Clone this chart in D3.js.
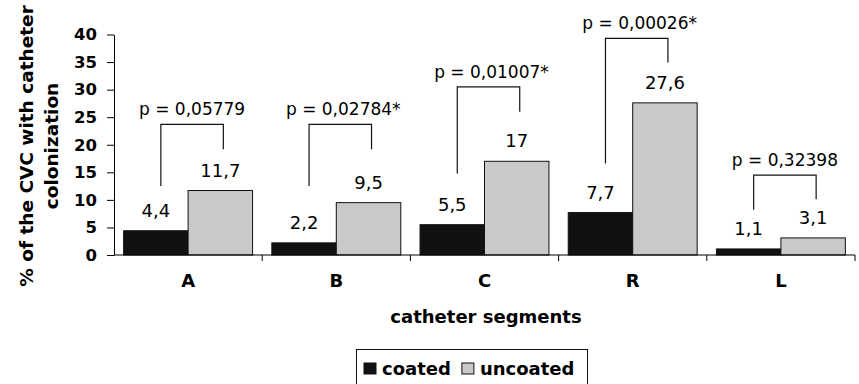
<!DOCTYPE html>
<html>
<head>
<meta charset="utf-8">
<script src="https://cdn.jsdelivr.net/npm/d3@7"></script>
<style>
  body { margin: 0; background: #fff; }
  svg { display: block; }
  text { font-family: "DejaVu Sans", sans-serif; fill: #000; }
</style>
</head>
<body>
<div class="chart"></div>
<script>
// catheter segments
var categories = ["A", "B", "C", "R", "L"];
var series = ["coated", "uncoated"];
var coated = [4.4, 2.2, 5.5, 7.7, 1.1];
var uncoated = [11.7, 9.5, 17, 27.6, 3.1];
var pLabels = ["p = 0,05779", "p = 0,02784*", "p = 0,01007*", "p = 0,00026*", "p = 0,32398"];
// bracket levels, in % units
var bracketTop = [23.7, 23.7, 30.5, 39.3, 14.5];
var bracketLeftEnd = [12.5, 12.5, 14.8, 16.6, 8.2];
var bracketRightEnd = [19.2, 19.2, 26, 34.9, 10.1];
var yTicks = [0, 5, 10, 15, 20, 25, 30, 35, 40];

var colors = { coated: "#111111", uncoated: "#c9c9cb" };
var width = 859, height = 384;

var svg = d3.select(".chart").append("svg")
  .attr("width", width)
  .attr("height", height);

var x0 = d3.scaleBand().domain(categories).range([114, 855])
  .paddingInner(0.13).paddingOuter(0.065);
var x1 = d3.scaleBand().domain(series).range([0, x0.bandwidth()]);
var y = d3.scaleLinear().domain([0, 40]).range([255, 34.5]);

var data = categories.map(function(c, i) {
  return { cat: c, i: i, coated: coated[i], uncoated: uncoated[i] };
});

function fmt(v) { return String(v).replace(".", ","); }

// y axis
var yAxis = svg.append("g")
  .attr("transform", "translate(114,0)")
  .call(d3.axisLeft(y).tickValues(yTicks).tickSize(7).tickSizeOuter(0).tickPadding(10));
yAxis.selectAll("text")
  .style("font-family", "DejaVu Sans")
  .style("font-weight", "bold")
  .style("font-size", "16.5px");
yAxis.select(".domain").attr("stroke", "#000");

// bars
var groups = svg.selectAll("g.cat").data(data).enter().append("g")
  .attr("class", "cat")
  .attr("transform", function(d) { return "translate(" + x0(d.cat) + ",0)"; });

groups.selectAll("rect").data(function(d) {
    return series.map(function(s) { return { key: s, value: d[s] }; });
  }).enter().append("rect")
  .attr("x", function(d) { return x1(d.key); })
  .attr("y", function(d) { return y(d.value); })
  .attr("width", x1.bandwidth())
  .attr("height", function(d) { return y(0) - y(d.value); })
  .attr("fill", function(d) { return colors[d.key]; })
  .attr("stroke", "#111")
  .attr("stroke-width", 1);

groups.selectAll("text.val").data(function(d) {
    return series.map(function(s) { return { key: s, value: d[s] }; });
  }).enter().append("text")
  .attr("class", "val")
  .attr("x", function(d) { return x1(d.key) + x1.bandwidth() / 2; })
  .attr("y", function(d) { return y(d.value) - 14; })
  .attr("text-anchor", "middle")
  .style("font-size", "18px")
  .text(function(d) { return fmt(d.value); });

// x axis
var bounds = categories.map(function(c) { return x0(c) - x0.step() * x0.paddingInner() / 2; });
bounds.push(855);
bounds[0] = 114;
svg.append("line")
  .attr("x1", 114).attr("x2", 855)
  .attr("y1", y(0)).attr("y2", y(0))
  .attr("stroke", "#000");
svg.selectAll("line.xtick").data(bounds.slice(1)).enter().append("line")
  .attr("class", "xtick")
  .attr("x1", function(d) { return d; }).attr("x2", function(d) { return d; })
  .attr("y1", y(0)).attr("y2", y(0) + 6)
  .attr("stroke", "#000");
svg.selectAll("text.xlab").data(categories).enter().append("text")
  .attr("class", "xlab")
  .attr("x", function(d) { return x0(d) + x0.bandwidth() / 2; })
  .attr("y", 287)
  .attr("text-anchor", "middle")
  .style("font-weight", "bold")
  .style("font-size", "18px")
  .text(function(d) { return d; });

// significance brackets
groups.each(function(d) {
  var g = d3.select(this);
  var xl = x1("coated") + x1.bandwidth() / 2 + 5;
  var xr = x1("uncoated") + x1.bandwidth() / 2 + 3;
  var yt = y(bracketTop[d.i]);
  g.append("path")
    .attr("d", "M" + xl + "," + y(bracketLeftEnd[d.i]) + "V" + yt + "H" + xr + "V" + y(bracketRightEnd[d.i]))
    .attr("fill", "none")
    .attr("stroke", "#111")
    .attr("stroke-width", 1.2);
  var star = pLabels[d.i].slice(-1) === "*";
  g.append("text")
    .attr("x", (xl + xr) / 2 + (star ? 3 : 0))
    .attr("y", yt - 9)
    .attr("text-anchor", "middle")
    .style("font-size", "17px")
    .text(pLabels[d.i]);
});

// axis titles
var yTitle = svg.append("text")
  .attr("transform", "rotate(-90)")
  .attr("text-anchor", "middle")
  .style("font-weight", "bold")
  .style("font-size", "18.5px");
yTitle.append("tspan").attr("x", -146).attr("y", 33).text("% of the CVC with catheter");
yTitle.append("tspan").attr("x", -146).attr("y", 58).text("colonization");

svg.append("text")
  .attr("x", 486)
  .attr("y", 323)
  .attr("text-anchor", "middle")
  .style("font-weight", "bold")
  .style("font-size", "18px")
  .text("catheter segments");

// legend
var legend = svg.append("g");
legend.append("rect")
  .attr("x", 356.5).attr("y", 349.5)
  .attr("width", 231).attr("height", 40)
  .attr("fill", "#fff")
  .attr("stroke", "#111");
var lx = 364;
series.forEach(function(s) {
  legend.append("rect")
    .attr("x", lx).attr("y", 363)
    .attr("width", 12).attr("height", 11)
    .attr("fill", colors[s])
    .attr("stroke", "#111");
  var t = legend.append("text")
    .attr("x", lx + 18).attr("y", 375)
    .style("font-weight", "bold")
    .style("font-size", "18px")
    .text(s);
  lx = lx + 18 + t.node().getComputedTextLength() + 11;
});
</script>
</body>
</html>
